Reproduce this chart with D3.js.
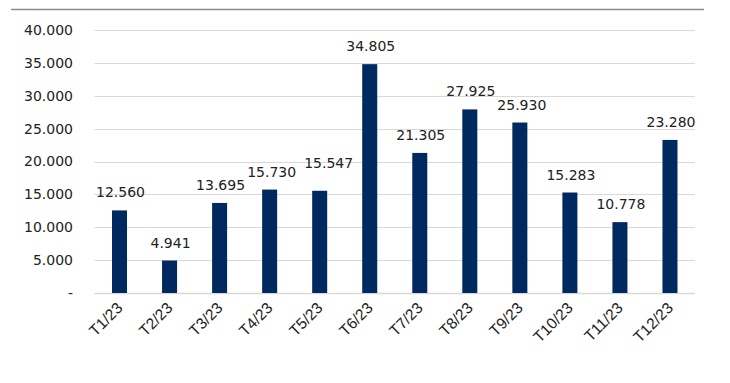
<!DOCTYPE html>
<html><head><meta charset="utf-8">
<script src="https://cdn.jsdelivr.net/npm/d3@7"></script>
<style>html,body{margin:0;padding:0;background:#fff;}</style>
</head><body>
<svg id="c" width="730" height="383"></svg>
<script>
const categories = ["T1/23","T2/23","T3/23","T4/23","T5/23","T6/23","T7/23","T8/23","T9/23","T10/23","T11/23","T12/23"];
const values = [12560,4941,13695,15730,15547,34805,21305,27925,25930,15283,10778,23280];
const yTicks = [0,5000,10000,15000,20000,25000,30000,35000,40000];

const svg = d3.select("#c");
const m = {left:94.5, right:695, top:30, bottom:293};
const x = d3.scaleBand().domain(categories).range([m.left, m.right]).paddingInner(0.7).paddingOuter(0.35);
const y = d3.scaleLinear().domain([0,40000]).range([m.bottom, m.top]);
const fmt = v => v === 0 ? "-" : d3.format(",")(v).replace(/,/g, ".");

// top rule
svg.append("line").attr("x1",11).attr("x2",704).attr("y1",9.5).attr("y2",9.5)
  .attr("stroke","#8c8c8c").attr("stroke-width",1.5);

// gridlines
svg.append("g").selectAll("line").data(yTicks).join("line")
  .attr("x1",m.left).attr("x2",m.right)
  .attr("y1",d=>Math.round(y(d))+0.5).attr("y2",d=>Math.round(y(d))+0.5)
  .attr("stroke","#d9d9d9").attr("stroke-width",d=>d===0?1.5:1);

// y axis labels
const yAxis = d3.axisLeft(y).tickValues(yTicks).tickFormat(fmt).tickSize(0).tickPadding(0);
const ga = svg.append("g").attr("transform","translate(73,0)").call(yAxis);
ga.select(".domain").remove();
ga.selectAll("text").attr("font-family","DejaVu Sans").attr("font-size",14).attr("fill","#222");

// bars
svg.append("g").selectAll("rect").data(values).join("rect")
  .attr("x",(d,i)=>x(categories[i])).attr("width",x.bandwidth())
  .attr("y",d=>y(d)).attr("height",d=>y(0)-y(d))
  .attr("fill","#002960");

// value labels (label collision nudges as in the original rendering)
const nudge = {4:[8,-10], 8:[1,0], 3:[1,0]};
svg.append("g").selectAll("text").data(values).join("text")
  .attr("x",(d,i)=>x(categories[i])+x.bandwidth()/2+1+(nudge[i]?nudge[i][0]:0))
  .attr("y",(d,i)=>y(d)-13+(nudge[i]?nudge[i][1]:0))
  .attr("text-anchor","middle")
  .attr("font-family","DejaVu Sans").attr("font-size",14).attr("fill","#222")
  .text(fmt);

// x labels
svg.append("g").selectAll("text").data(categories).join("text")
  .attr("transform",d=>`translate(${x(d)+x.bandwidth()/2+4},${309}) rotate(-45)`)
  .attr("text-anchor","end")
  .attr("font-family","Liberation Sans, Arial").attr("font-size",15.5).attr("fill","#222")
  .text(d=>d);
</script>
</body></html>
